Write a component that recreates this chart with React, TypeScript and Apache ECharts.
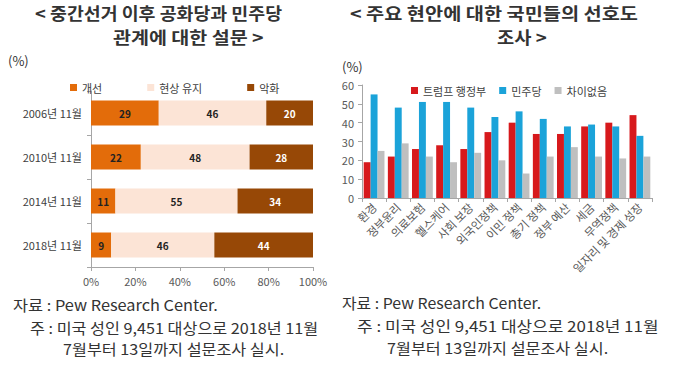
import React, { useEffect, useRef } from "react";
import * as echarts from "echarts";

const leftCategories = ["2006년 11월", "2010년 11월", "2014년 11월", "2018년 11월"];
const improve = [29, 22, 11, 9];
const statusQuo = [46, 48, 55, 46];
const worsen = [20, 28, 34, 44];
const leftTicks = [0, 20, 40, 60, 80, 100];

const rightCategories = [
  "환경", "정부윤리", "의료보험", "헬스케어", "사회 보장", "외국인정책",
  "이민 정책", "총기 정책", "정부 예산", "세금", "무역정책", "일자리 및 경제 성장",
];
const trumpAdmin = [19, 22, 26, 28, 26, 35, 40, 34, 34, 38, 40, 44];
const democrats = [55, 48, 51, 51, 48, 43, 46, 42, 38, 39, 38, 33];
const noDiff = [25, 29, 22, 19, 24, 20, 13, 22, 27, 22, 21, 22];

const FONT = "'Noto Sans CJK KR', 'Noto Sans', sans-serif";

// 100% stacked: normalise each row, keep raw value for the label
const totals = improve.map((v, i) => v + statusQuo[i] + worsen[i]);
const norm = (arr: number[]) =>
  arr.map((v, i) => ({ value: (v / totals[i]) * 100, raw: v }));

export default function App() {
  const ref = useRef<HTMLDivElement>(null);
  useEffect(() => {
    if (!ref.current) return;
    const chart = echarts.init(ref.current, null, { renderer: "svg" });
    const axisLineStyle = { lineStyle: { color: "#A6A6A6", width: 1 } };
    const noteStyle = { fontSize: 15, fill: "#333", fontFamily: FONT };
    const titleStyle = { fontSize: 17, fontWeight: "bold", fill: "#333", fontFamily: FONT };
    const rawLabel = (p: any) => String(p.data.raw);
    chart.setOption({
      animation: false,
      backgroundColor: "#fff",
      textStyle: { fontFamily: FONT },
      graphic: [
        { type: "text", x: 35, y: 4, scaleX: 1.08, style: { ...titleStyle, text: "< 중간선거 이후 공화당과 민주당" } },
        { type: "text", x: 113, y: 28, scaleX: 1.15, style: { ...titleStyle, text: "관계에 대한 설문 >" } },
        { type: "text", x: 350, y: 4, scaleX: 1.16, style: { ...titleStyle, text: "< 주요 현안에 대한 국민들의 선호도" } },
        { type: "text", x: 497, y: 28, scaleX: 1.1, style: { ...titleStyle, text: "조사 >" } },
        { type: "text", x: 8, y: 54, style: { text: "(%)", fontSize: 13, fill: "#333", fontFamily: FONT } },
        { type: "text", x: 342, y: 60, style: { text: "(%)", fontSize: 13, fill: "#333", fontFamily: FONT } },
        { type: "text", x: 13, y: 297, scaleX: 1.09, style: { ...noteStyle, text: "자료 : Pew Research Center." } },
        { type: "text", x: 30, y: 320, scaleX: 1.08, style: { ...noteStyle, text: "주 : 미국 성인 9,451 대상으로 2018년 11월" } },
        { type: "text", x: 63, y: 341, scaleX: 1.08, style: { ...noteStyle, text: "7월부터 13일까지 설문조사 실시." } },
        { type: "text", x: 342, y: 295, scaleX: 1.06, style: { ...noteStyle, text: "자료 : Pew Research Center." } },
        { type: "text", x: 357, y: 318, scaleX: 1.13, style: { ...noteStyle, text: "주 : 미국 성인 9,451 대상으로 2018년 11월" } },
        { type: "text", x: 387, y: 340, scaleX: 1.08, style: { ...noteStyle, text: "7월부터 13일까지 설문조사 실시." } },
      ],
      legend: [
        {
          left: 65, top: 77, itemWidth: 7, itemHeight: 7, itemGap: 45,
          icon: "rect",
          textStyle: { fontSize: 11, color: "#404040" },
          data: ["개선", "현상 유지", "악화"],
        },
        {
          left: 406, top: 80, itemWidth: 7, itemHeight: 7, itemGap: 13,
          icon: "rect",
          textStyle: { fontSize: 11, color: "#404040" },
          data: ["트럼프 행정부", "민주당", "차이없음"],
        },
      ],
      grid: [
        { left: 91, top: 91, width: 222, height: 176 },
        { left: 362, top: 85, width: 290, height: 113 },
      ],
      xAxis: [
        {
          gridIndex: 0, type: "value", min: 0, max: 100, interval: 20,
          axisLine: { show: true, ...axisLineStyle },
          axisTick: { show: true, length: 4, ...axisLineStyle },
          splitLine: { show: false },
          axisLabel: { formatter: (v: number) => (leftTicks.includes(v) ? v + "%" : ""), fontSize: 11, color: "#595959", margin: 8 },
        },
        {
          gridIndex: 1, type: "category", data: rightCategories,
          axisLine: { show: true, ...axisLineStyle },
          axisTick: { show: true, length: 4, ...axisLineStyle },
          axisLabel: { rotate: 45, interval: 0, fontSize: 11.5, color: "#595959", margin: 7 },
        },
      ],
      yAxis: [
        {
          gridIndex: 0, type: "category", data: leftCategories, inverse: true,
          axisLine: { show: true, ...axisLineStyle },
          axisTick: { show: true, length: 4, ...axisLineStyle },
          axisLabel: { fontSize: 11, color: "#404040", margin: 9 },
        },
        {
          gridIndex: 1, type: "value", min: 0, max: 60, interval: 10,
          axisLine: { show: true, ...axisLineStyle },
          axisTick: { show: true, length: 4, ...axisLineStyle },
          splitLine: { show: false },
          axisLabel: { fontSize: 11, color: "#595959", margin: 8 },
        },
      ],
      series: [
        {
          name: "개선", type: "bar", stack: "s", xAxisIndex: 0, yAxisIndex: 0, barWidth: 25,
          data: norm(improve), itemStyle: { color: "#E36C0A" },
          label: { show: true, position: "inside", fontSize: 10, fontWeight: "bold", color: "#222", formatter: rawLabel },
        },
        {
          name: "현상 유지", type: "bar", stack: "s", xAxisIndex: 0, yAxisIndex: 0, barWidth: 25,
          data: norm(statusQuo), itemStyle: { color: "#FCE4D6" },
          label: { show: true, position: "inside", fontSize: 10, fontWeight: "bold", color: "#222", formatter: rawLabel },
        },
        {
          name: "악화", type: "bar", stack: "s", xAxisIndex: 0, yAxisIndex: 0, barWidth: 25,
          data: norm(worsen), itemStyle: { color: "#974806" },
          label: { show: true, position: "inside", fontSize: 10, fontWeight: "bold", color: "#fff", formatter: rawLabel },
        },
        {
          name: "트럼프 행정부", type: "bar", xAxisIndex: 1, yAxisIndex: 1,
          data: trumpAdmin, itemStyle: { color: "#D7191C" }, barGap: "0%", barCategoryGap: "14%",
        },
        {
          name: "민주당", type: "bar", xAxisIndex: 1, yAxisIndex: 1,
          data: democrats, itemStyle: { color: "#1BA3D9" }, barGap: "0%", barCategoryGap: "14%",
        },
        {
          name: "차이없음", type: "bar", xAxisIndex: 1, yAxisIndex: 1,
          data: noDiff, itemStyle: { color: "#BFBFBF" }, barGap: "0%", barCategoryGap: "14%",
        },
      ],
    });
    return () => chart.dispose();
  }, []);
  return (
    <div
      ref={ref}
      style={{ position: "fixed", left: 0, top: 0, width: 680, height: 368, background: "#fff" }}
    />
  );
}
